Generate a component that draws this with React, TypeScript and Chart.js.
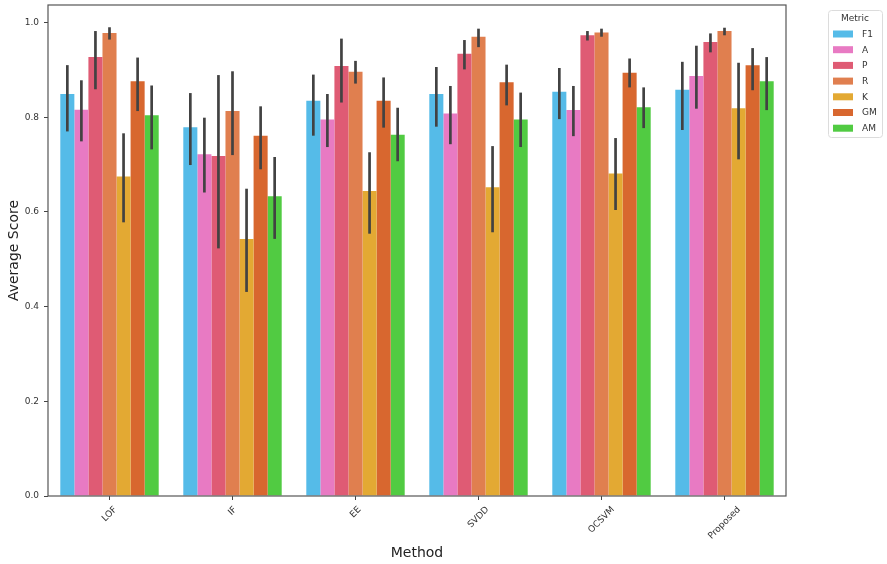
import React, { useEffect, useRef } from "react";
import { Chart, registerables } from "chart.js";

Chart.register(...registerables);

const categories = ["LOF", "IF", "EE", "SVDD", "OCSVM", "Proposed"];
const metrics = ["F1", "A", "P", "R", "K", "GM", "AM"];
const colors = ["#55bbe8", "#e87ac3", "#df5b74", "#e07f4f", "#e3a933", "#d8672f", "#51cb42"];

const f1 = [0.849, 0.779, 0.835, 0.849, 0.854, 0.858];
const f1Low = [0.77, 0.699, 0.761, 0.78, 0.796, 0.773];
const f1High = [0.91, 0.851, 0.89, 0.906, 0.904, 0.917];
const aVals = [0.816, 0.722, 0.795, 0.808, 0.815, 0.887];
const aLow = [0.749, 0.641, 0.737, 0.743, 0.76, 0.818];
const aHigh = [0.878, 0.799, 0.849, 0.866, 0.866, 0.951];
const pVals = [0.927, 0.718, 0.908, 0.934, 0.973, 0.959];
const pLow = [0.859, 0.523, 0.831, 0.901, 0.962, 0.937];
const pHigh = [0.982, 0.889, 0.966, 0.963, 0.982, 0.977];
const rVals = [0.978, 0.813, 0.896, 0.97, 0.979, 0.982];
const rLow = [0.964, 0.72, 0.871, 0.948, 0.97, 0.973];
const rHigh = [0.99, 0.897, 0.919, 0.987, 0.987, 0.989];
const kVals = [0.675, 0.543, 0.644, 0.652, 0.681, 0.819];
const kLow = [0.578, 0.431, 0.554, 0.557, 0.604, 0.711];
const kHigh = [0.766, 0.649, 0.726, 0.739, 0.756, 0.915];
const gmVals = [0.876, 0.761, 0.835, 0.874, 0.894, 0.91];
const gmLow = [0.813, 0.69, 0.778, 0.825, 0.863, 0.857];
const gmHigh = [0.926, 0.823, 0.884, 0.911, 0.924, 0.946];
const amVals = [0.804, 0.633, 0.763, 0.795, 0.821, 0.876];
const amLow = [0.732, 0.543, 0.707, 0.737, 0.777, 0.815];
const amHigh = [0.867, 0.716, 0.82, 0.852, 0.863, 0.927];

const seriesValues = [f1, aVals, pVals, rVals, kVals, gmVals, amVals];
const seriesLow = [f1Low, aLow, pLow, rLow, kLow, gmLow, amLow];
const seriesHigh = [f1High, aHigh, pHigh, rHigh, kHigh, gmHigh, amHigh];
const yTicks = [0, 0.2, 0.4, 0.6, 0.8, 1.0];

const FONT = "'DejaVu Sans', sans-serif";

const decorPlugin = {
  id: "decor",
  afterDatasetsDraw(chart: any) {
    const ctx = chart.ctx;
    const y = chart.scales.y;
    ctx.save();
    ctx.strokeStyle = "#424242";
    ctx.lineWidth = 2.7;
    ctx.lineCap = "butt";
    chart.data.datasets.forEach((_ds: any, i: number) => {
      const meta = chart.getDatasetMeta(i);
      meta.data.forEach((bar: any, j: number) => {
        const lo = y.getPixelForValue(seriesLow[i][j]);
        const hi = y.getPixelForValue(seriesHigh[i][j]);
        ctx.beginPath();
        ctx.moveTo(bar.x, lo);
        ctx.lineTo(bar.x, hi);
        ctx.stroke();
      });
    });
    ctx.restore();
  },
  afterDraw(chart: any) {
    const ctx = chart.ctx;
    const area = chart.chartArea;
    const x = chart.scales.x;
    ctx.save();
    // frame
    ctx.strokeStyle = "#555";
    ctx.lineWidth = 1.2;
    ctx.strokeRect(area.left, area.top, area.right - area.left, area.bottom - area.top);
    // x tick labels, rotated and centred under ticks
    ctx.fillStyle = "#333";
    ctx.font = `9px ${FONT}`;
    categories.forEach((c, i) => {
      const px = x.getPixelForValue(i);
      const w = ctx.measureText(c).width;
      const h = 9;
      const half = ((w + h) * Math.SQRT1_2) / 2;
      ctx.save();
      ctx.translate(px, area.bottom + 9 + half);
      ctx.rotate(-Math.PI / 4);
      ctx.textAlign = "center";
      ctx.textBaseline = "middle";
      ctx.fillText(c, 0, 0);
      ctx.restore();
    });
    // axis titles
    ctx.font = `14px ${FONT}`;
    ctx.fillStyle = "#222";
    ctx.textAlign = "center";
    ctx.textBaseline = "middle";
    ctx.fillText("Method", (area.left + area.right) / 2, 553);
    ctx.save();
    ctx.translate(14, (area.top + area.bottom) / 2);
    ctx.rotate(-Math.PI / 2);
    ctx.fillText("Average Score", 0, 0);
    ctx.restore();
    // legend
    const lx = 828, ly = 10, lw = 54, lh = 127;
    ctx.fillStyle = "rgba(255,255,255,0.9)";
    ctx.strokeStyle = "#dcdcdc";
    ctx.lineWidth = 1;
    ctx.beginPath();
    (ctx as any).roundRect(lx + 0.5, ly + 0.5, lw, lh, 3);
    ctx.fill();
    ctx.stroke();
    ctx.fillStyle = "#333";
    ctx.font = `9px ${FONT}`;
    ctx.textAlign = "center";
    ctx.fillText("Metric", lx + lw / 2, 19);
    ctx.textAlign = "left";
    metrics.forEach((m, i) => {
      const cy = 34 + i * 15.7;
      ctx.fillStyle = colors[i];
      ctx.fillRect(833, cy - 3.5, 20, 7);
      ctx.fillStyle = "#333";
      ctx.fillText(m, 862, cy + 0.5);
    });
    ctx.restore();
  },
};

export default function App() {
  const ref = useRef<HTMLCanvasElement | null>(null);
  useEffect(() => {
    document.body.style.margin = "0";
    if (!ref.current) return;
    const chart = new Chart(ref.current, {
      type: "bar",
      data: {
        labels: categories,
        datasets: metrics.map((m, i) => ({
          label: m,
          data: seriesValues[i],
          backgroundColor: colors[i],
          borderWidth: 0,
          categoryPercentage: 0.8,
          barPercentage: 1.0,
        })),
      },
      options: {
        animation: false,
        responsive: false,
        layout: { padding: { left: 0, right: 101, top: 5, bottom: 0 } },
        plugins: {
          legend: { display: false },
          tooltip: { enabled: false },
          title: { display: false },
        },
        scales: {
          x: {
            type: "category",
            offset: true,
            grid: {
              display: true,
              offset: false,
              drawOnChartArea: false,
              drawTicks: true,
              tickLength: 4,
              color: "#444",
            },
            border: { display: false },
            ticks: { display: false },
            afterFit: (s: any) => {
              s.height = 68;
              s.paddingLeft = 0;
              s.paddingRight = 0;
            },
          },
          y: {
            min: 0,
            max: 1.037,
            grid: {
              display: true,
              drawOnChartArea: false,
              drawTicks: true,
              tickLength: 4,
              color: "#444",
            },
            border: { display: false },
            ticks: {
              stepSize: 0.2,
              padding: 5,
              color: "#333",
              font: { family: FONT, size: 9 },
              callback: (v: any) => Number(v).toFixed(1),
            },
            afterBuildTicks: (s: any) => {
              s.ticks = yTicks.map((v) => ({ value: v }));
            },
            afterFit: (s: any) => {
              s.width = 48;
              s.paddingTop = 0;
              s.paddingBottom = 0;
            },
          },
        },
      } as any,
      plugins: [decorPlugin],
    });
    return () => chart.destroy();
  }, []);
  return (
    <div style={{ position: "absolute", left: 0, top: 0, width: 887, height: 564, background: "#fff" }}>
      <canvas ref={ref} width={887} height={564} style={{ width: 887, height: 564 }} />
    </div>
  );
}
